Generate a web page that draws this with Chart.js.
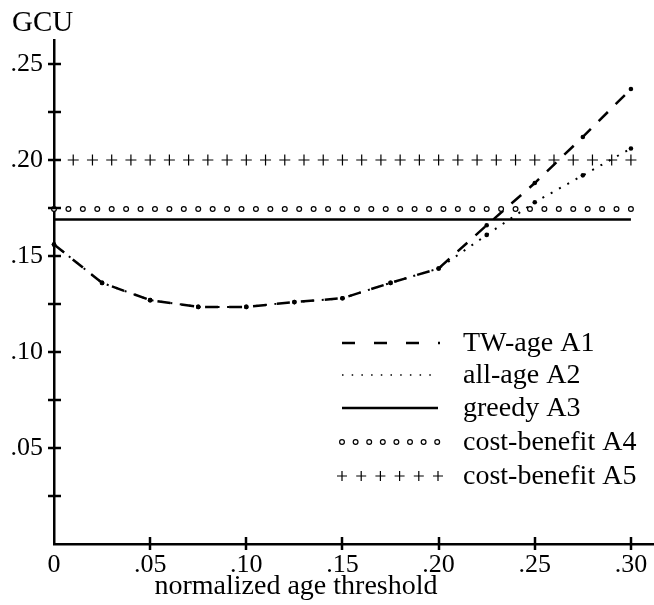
<!DOCTYPE html>
<html>
<head>
<meta charset="utf-8">
<script src="https://cdn.jsdelivr.net/npm/chart.js@4/dist/chart.umd.min.js"></script>
<style>
  html, body { margin: 0; padding: 0; background: #fff; }
  #wrap { width: 654px; height: 605px; }
</style>
</head>
<body>
<div id="wrap"><canvas id="gcu-chart" width="654" height="605"></canvas></div>
<script>
// age thresholds where A1 / A2 were measured
const thresholds = [0, 0.025, 0.05, 0.075, 0.10, 0.125, 0.15, 0.175, 0.20, 0.225, 0.25, 0.275, 0.30];
const twAgeA1 = [0.156, 0.136, 0.127, 0.1235, 0.1235, 0.126, 0.128, 0.136, 0.1435, 0.166, 0.188, 0.212, 0.237];
const allAgeA2 = [0.156, 0.136, 0.127, 0.1235, 0.1235, 0.126, 0.128, 0.136, 0.1435, 0.161, 0.178, 0.192, 0.206];

// flat policies
const greedyX = [0, 0.30];
const greedyA3 = [0.169, 0.169];
const cbA4X = [0, 0.0075, 0.015, 0.0225, 0.03, 0.0375, 0.045, 0.0525, 0.06, 0.0675, 0.075, 0.0825, 0.09, 0.0975,
  0.105, 0.1125, 0.12, 0.1275, 0.135, 0.1425, 0.15, 0.1575, 0.165, 0.1725, 0.18, 0.1875, 0.195, 0.2025,
  0.21, 0.2175, 0.225, 0.2325, 0.24, 0.2475, 0.255, 0.2625, 0.27, 0.2775, 0.285, 0.2925, 0.30];
const cbA4Level = 0.1745;
const cbA5X = [0, 0.01, 0.02, 0.03, 0.04, 0.05, 0.06, 0.07, 0.08, 0.09, 0.10, 0.11, 0.12, 0.13, 0.14, 0.15,
  0.16, 0.17, 0.18, 0.19, 0.20, 0.21, 0.22, 0.23, 0.24, 0.25, 0.26, 0.27, 0.28, 0.29, 0.30];
const cbA5Level = 0.20;

const seriesLabels = ["TW-age A1", "all-age A2", "greedy A3", "cost-benefit A4", "cost-benefit A5"];
const xTickValues = [0, 0.05, 0.10, 0.15, 0.20, 0.25, 0.30];
const xTickLabels = ["0", ".05", ".10", ".15", ".20", ".25", ".30"];
const yTickValues = [0.025, 0.05, 0.075, 0.10, 0.125, 0.15, 0.175, 0.20, 0.225, 0.25];
const yTickLabels = ["", ".05", "", ".10", "", ".15", "", ".20", "", ".25"];

const FONT = "'Liberation Serif', 'DejaVu Serif', serif";

const pts = (xs, ys) => xs.map((x, i) => ({ x: x, y: ys[i] }));

// tick marks that cross the axes, axis titles and the legend
const decorations = {
    id: "decorations",
    afterDraw(chart) {
        const ctx = chart.ctx;
        const xs = chart.scales.x, ys = chart.scales.y;
        const area = chart.chartArea;
        ctx.save();
        ctx.strokeStyle = "#000";
        ctx.lineWidth = 2.5;
        ctx.setLineDash([]);
        // y ticks
        yTickValues.forEach(v => {
            const py = Math.round(ys.getPixelForValue(v));
            ctx.beginPath();
            ctx.moveTo(area.left - 6, py);
            ctx.lineTo(area.left + 7, py);
            ctx.stroke();
        });
        // x ticks
        xTickValues.forEach(v => {
            if (v === 0) return;
            const px = Math.round(xs.getPixelForValue(v));
            ctx.beginPath();
            ctx.moveTo(px, area.bottom - 7);
            ctx.lineTo(px, area.bottom + 6);
            ctx.stroke();
        });

        ctx.fillStyle = "#000";
        ctx.textBaseline = "alphabetic";
        ctx.textAlign = "left";
        ctx.font = "29px " + FONT;
        ctx.fillText("GCU", 12, 31);
        ctx.textAlign = "center";
        ctx.font = "28px " + FONT;
        ctx.fillText("normalized age threshold", 296, 594);

        // legend
        const lx0 = 342, lx1 = 438, tx = 463;
        const rowsY = [343, 375, 408, 442, 476];
        ctx.textAlign = "left";
        ctx.textBaseline = "middle";
        ctx.font = "28px " + FONT;
        rowsY.forEach((ry, i) => {
            ctx.fillText(seriesLabels[i], tx, ry + 1);
        });
        // dashed
        ctx.lineWidth = 2.5;
        ctx.setLineDash([13, 19]);
        ctx.beginPath(); ctx.moveTo(lx0, rowsY[0]); ctx.lineTo(lx0 + 98, rowsY[0]); ctx.stroke();
        // dotted
        ctx.lineWidth = 1.5;
        ctx.setLineDash([1.5, 8.2]);
        ctx.beginPath(); ctx.moveTo(lx0, rowsY[1]); ctx.lineTo(lx1, rowsY[1]); ctx.stroke();
        // solid
        ctx.lineWidth = 2.5;
        ctx.setLineDash([]);
        ctx.beginPath(); ctx.moveTo(lx0, rowsY[2]); ctx.lineTo(lx1, rowsY[2]); ctx.stroke();
        // circles
        ctx.lineWidth = 1.2;
        for (let k = 0; k < 8; k++) {
            ctx.beginPath();
            ctx.arc(lx0 + k * 13.6, rowsY[3], 2.4, 0, Math.PI * 2);
            ctx.stroke();
        }
        // pluses
        for (let k = 0; k < 6; k++) {
            const cx = lx0 + k * 19.2;
            ctx.beginPath();
            ctx.moveTo(cx - 5, rowsY[4]); ctx.lineTo(cx + 5, rowsY[4]);
            ctx.moveTo(cx, rowsY[4] - 5); ctx.lineTo(cx, rowsY[4] + 5);
            ctx.stroke();
        }
        ctx.restore();
    }
};

const ctx = document.getElementById("gcu-chart").getContext("2d");
new Chart(ctx, {
    type: "line",
    data: {
        datasets: [
            {
                label: seriesLabels[2],
                data: pts(greedyX, greedyA3),
                borderColor: "#000",
                borderWidth: 2.5,
                pointRadius: 0,
                clip: false
            },
            {
                label: seriesLabels[3],
                data: cbA4X.map(x => ({ x: x, y: cbA4Level })),
                showLine: false,
                pointStyle: "circle",
                pointRadius: 2.4,
                pointBorderWidth: 1.2,
                pointBorderColor: "#000",
                pointBackgroundColor: "#fff",
                clip: false
            },
            {
                label: seriesLabels[4],
                data: cbA5X.map(x => ({ x: x, y: cbA5Level })),
                showLine: false,
                pointStyle: "cross",
                pointRadius: 5.5,
                pointBorderWidth: 1.2,
                pointBorderColor: "#000",
                clip: false
            },
            {
                label: seriesLabels[0],
                data: pts(thresholds, twAgeA1),
                borderColor: "#000",
                borderWidth: 2.5,
                borderDash: [13, 11],
                pointRadius: 2.3,
                pointBackgroundColor: "#000",
                pointBorderColor: "#000",
                pointBorderWidth: 0,
                clip: false
            },
            {
                label: seriesLabels[1],
                data: pts(thresholds, allAgeA2),
                borderColor: "#000",
                borderWidth: 2,
                borderDash: [2, 7.5],
                pointRadius: 2.3,
                pointBackgroundColor: "#000",
                pointBorderColor: "#000",
                pointBorderWidth: 0,
                clip: false
            }
        ]
    },
    options: {
        responsive: false,
        animation: false,
        layout: { autoPadding: false, padding: { top: 40, left: 0, right: 0, bottom: 0 } },
        plugins: {
            legend: { display: false },
            tooltip: { enabled: false },
            title: { display: false }
        },
        scales: {
            x: {
                type: "linear",
                min: 0,
                max: 0.312,
                afterBuildTicks: scale => { scale.ticks = xTickValues.map(v => ({ value: v })); },
                afterFit: scale => {
                    scale.height = 61;
                    scale.paddingLeft = 0;
                    scale.paddingRight = 0;
                },
                grid: { display: false, drawTicks: false },
                border: { display: true, color: "#000", width: 2.5 },
                ticks: {
                    color: "#000",
                    padding: 6,
                    maxRotation: 0,
                    autoSkip: false,
                    font: { family: FONT, size: 26 },
                    callback: (v, i) => xTickLabels[i]
                }
            },
            y: {
                type: "linear",
                min: 0,
                max: 0.2625,
                afterBuildTicks: scale => { scale.ticks = yTickValues.map(v => ({ value: v })); },
                afterFit: scale => {
                    scale.width = 54;
                    scale.paddingTop = 0;
                    scale.paddingBottom = 0;
                },
                grid: { display: false, drawTicks: false },
                border: { display: true, color: "#000", width: 2.5 },
                ticks: {
                    color: "#000",
                    padding: 11,
                    autoSkip: false,
                    font: { family: FONT, size: 26 },
                    callback: (v, i) => yTickLabels[i]
                }
            }
        }
    },
    plugins: [decorations]
});
</script>
</body>
</html>
